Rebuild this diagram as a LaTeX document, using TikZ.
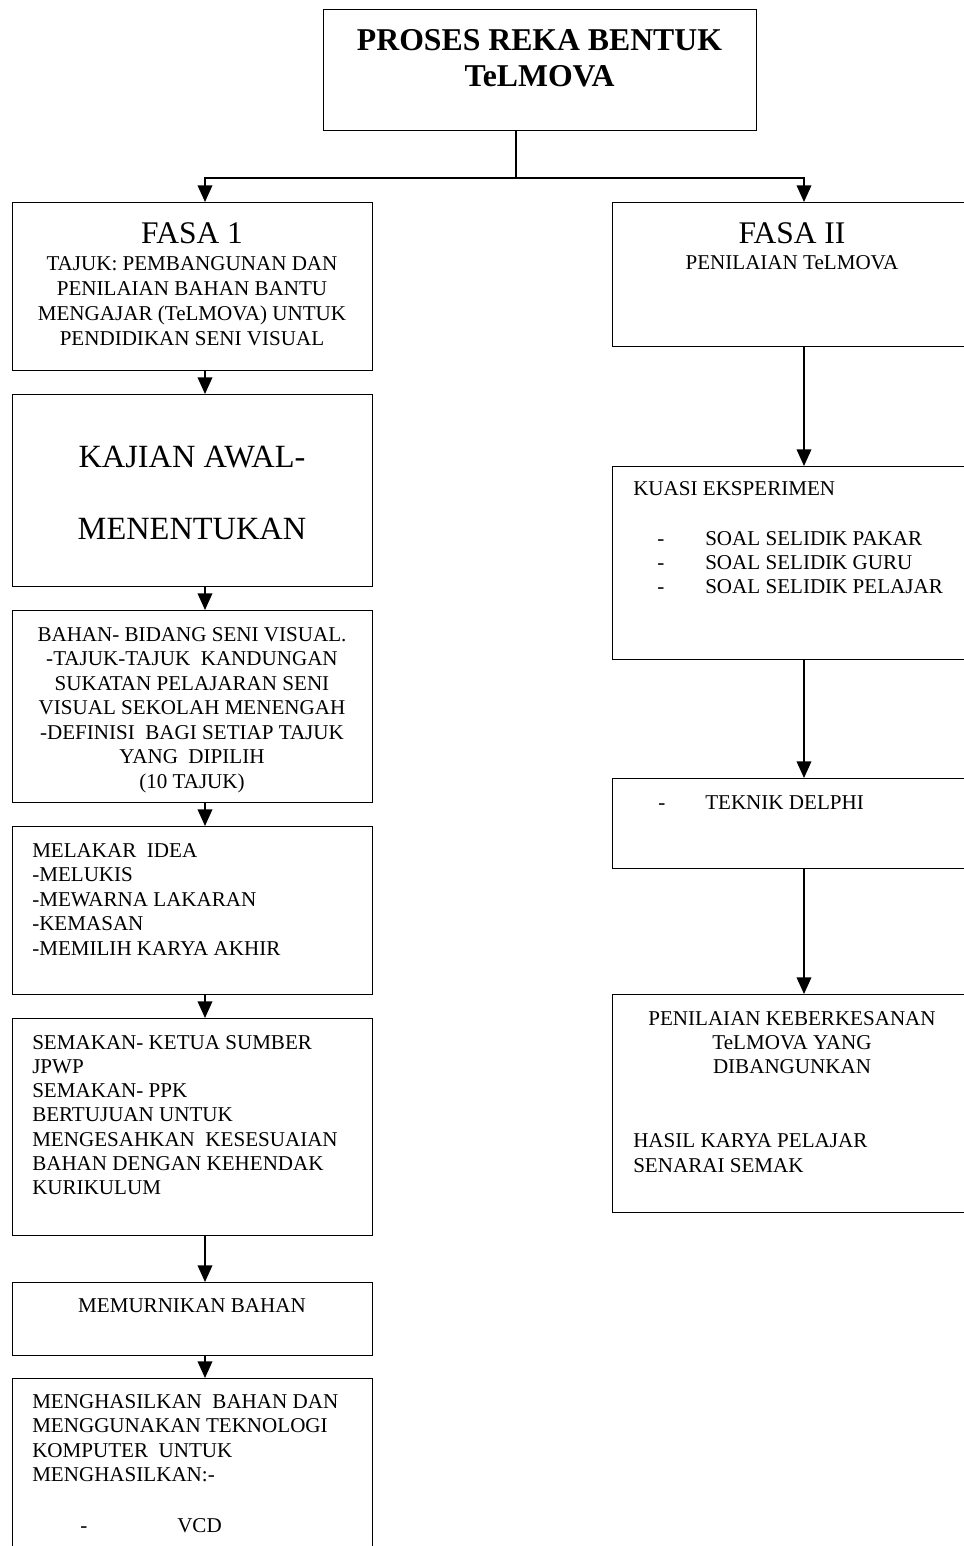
\documentclass[tikz,border=0pt]{standalone}
\usepackage{fontspec}
\setmainfont{Liberation Serif}
\usetikzlibrary{arrows.meta}
\newlength\px
\setlength\px{0.75pt}
\begin{document}
\begin{tikzpicture}[x=0.75pt,y=-0.75pt,
  box/.style={draw, line width=0.85pt, inner sep=0, anchor=north west},
  link/.style={line width=1.1pt},
  flow/.style={line width=1.1pt, -{Triangle[length=12.5pt,width=11pt]}},
  body/.style={font=\fontsize{15.8}{18}\selectfont, inner sep=0},
  head/.style={font=\fontsize{23.6}{28}\selectfont, inner sep=0},
  big/.style={font=\fontsize{24.3}{28}\selectfont, inner sep=0},
  titletext/.style={font=\fontsize{23.8}{28}\selectfont\bfseries, inner sep=0}]
\useasboundingbox (0,0) rectangle (964,1546);
\clip (0,0) rectangle (964,1546);

% column lines and the fork
\coordinate (colL) at (205,0);
\coordinate (colR) at (804,0);
\coordinate (fork) at (516,178);

% title
\node[box, minimum width=433\px, minimum height=121\px] (title) at (323,9) {};
\node[titletext, anchor=base] (t1) at (539.5,50) {PROSES REKA BENTUK};
\node[titletext, anchor=base] (t2) at (539.5,86) {TeLMOVA};

% left column boxes
\node[box, minimum width=360\px, minimum height=168\px] (b1) at (12,202) {};
\node[box, minimum width=360\px, minimum height=192\px] (b2) at (12,394) {};
\node[box, minimum width=360\px, minimum height=192\px] (b3) at (12,610) {};
\node[box, minimum width=360\px, minimum height=168\px] (b4) at (12,826) {};
\node[box, minimum width=360\px, minimum height=217\px] (b5) at (12,1018) {};
\node[box, minimum width=360\px, minimum height=73\px] (b6) at (12,1282) {};
\node[box, minimum width=360\px, minimum height=200\px] (b7) at (12,1378) {};

% right column boxes
\node[box, minimum width=360\px, minimum height=144\px] (r1) at (612,202) {};
\node[box, minimum width=360\px, minimum height=193\px] (r2) at (612,466) {};
\node[box, minimum width=360\px, minimum height=90\px] (r3) at (612,778) {};
\node[box, minimum width=360\px, minimum height=218\px] (r4) at (612,994) {};

% texts, left column
\node[head, anchor=base] (b1h) at (192,243) {FASA 1};
\foreach \t [count=\i from 0] in {TAJUK: PEMBANGUNAN DAN, PENILAIAN BAHAN BANTU, {MENGAJAR (TeLMOVA) UNTUK}, PENDIDIKAN SENI VISUAL}
  \node[body, anchor=base] (b1t\i) at (192,{270+25*\i}) {\t};

\node[big, anchor=base] (b2a) at (192,467) {KAJIAN AWAL-};
\node[big, anchor=base] (b2b) at (192,539) {MENENTUKAN};

\foreach \t [count=\i from 0] in {BAHAN- BIDANG SENI VISUAL., -TAJUK-TAJUK\ \ KANDUNGAN, SUKATAN PELAJARAN SENI, VISUAL SEKOLAH MENENGAH, -DEFINISI\ \ BAGI SETIAP TAJUK, YANG\ \ DIPILIH, {(10 TAJUK)}}
  \node[body, anchor=base] (b3t\i) at (192,{641+24.5*\i}) {\t};

\foreach \t [count=\i from 0] in {MELAKAR\ \ IDEA, -MELUKIS, -MEWARNA LAKARAN, -KEMASAN, -MEMILIH KARYA AKHIR}
  \node[body, anchor=base west] (b4t\i) at (32,{857+24.5*\i}) {\t};

\foreach \t [count=\i from 0] in {SEMAKAN- KETUA SUMBER, JPWP, SEMAKAN- PPK, BERTUJUAN UNTUK, MENGESAHKAN\ \ KESESUAIAN, BAHAN DENGAN KEHENDAK, KURIKULUM}
  \node[body, anchor=base west] (b5t\i) at (32,{1049+24.3*\i}) {\t};

\node[body, anchor=base] (b6t) at (192,1312) {MEMURNIKAN BAHAN};

\foreach \t [count=\i from 0] in {MENGHASILKAN\ \ BAHAN DAN, MENGGUNAKAN TEKNOLOGI, KOMPUTER\ \ UNTUK, MENGHASILKAN:-}
  \node[body, anchor=base west] (b7t\i) at (32,{1408+24.5*\i}) {\t};
\node[body, anchor=base west] (b7d) at (80,1532) {-};
\node[body, anchor=base west] (b7v) at (177,1532) {VCD};

% texts, right column
\node[head, anchor=base] (r1h) at (792,243) {FASA II};
\node[body, anchor=base] (r1t) at (792,269) {PENILAIAN TeLMOVA};

\node[body, anchor=base west] (r2h) at (633,495) {KUASI EKSPERIMEN};
\foreach \t [count=\i from 0] in {PAKAR, GURU, PELAJAR}{
  \node[body, anchor=base west] (r2d\i) at (657,{545+24*\i}) {-};
  \node[body, anchor=base west] (r2t\i) at (705,{545+24*\i}) {SOAL SELIDIK \t};
}

\node[body, anchor=base west] (r3d) at (658,809) {-};
\node[body, anchor=base west] (r3t) at (705,809) {TEKNIK DELPHI};

\foreach \t [count=\i from 0] in {PENILAIAN KEBERKESANAN, TeLMOVA YANG, DIBANGUNKAN}
  \node[body, anchor=base] (r4t\i) at (792,{1025+24*\i}) {\t};
\node[body, anchor=base west] (r4a) at (633,1147) {HASIL KARYA PELAJAR};
\node[body, anchor=base west] (r4b) at (633,1172) {SENARAI SEMAK};

% connectors
\draw[link] (title.south -| fork) -- (fork);
\draw[flow] (fork) -| (b1.north -| colL);
\draw[flow] (fork) -| (r1.north -| colR);

\draw[flow] (b1.south -| colL) -- (b2.north -| colL);
\draw[flow] (b2.south -| colL) -- (b3.north -| colL);
\draw[flow] (b3.south -| colL) -- (b4.north -| colL);
\draw[flow] (b4.south -| colL) -- (b5.north -| colL);
\draw[flow] (b5.south -| colL) -- (b6.north -| colL);
\draw[flow] (b6.south -| colL) -- (b7.north -| colL);

\draw[flow] (r1.south -| colR) -- (r2.north -| colR);
\draw[flow] (r2.south -| colR) -- (r3.north -| colR);
\draw[flow] (r3.south -| colR) -- (r4.north -| colR);
\end{tikzpicture}
\end{document}
